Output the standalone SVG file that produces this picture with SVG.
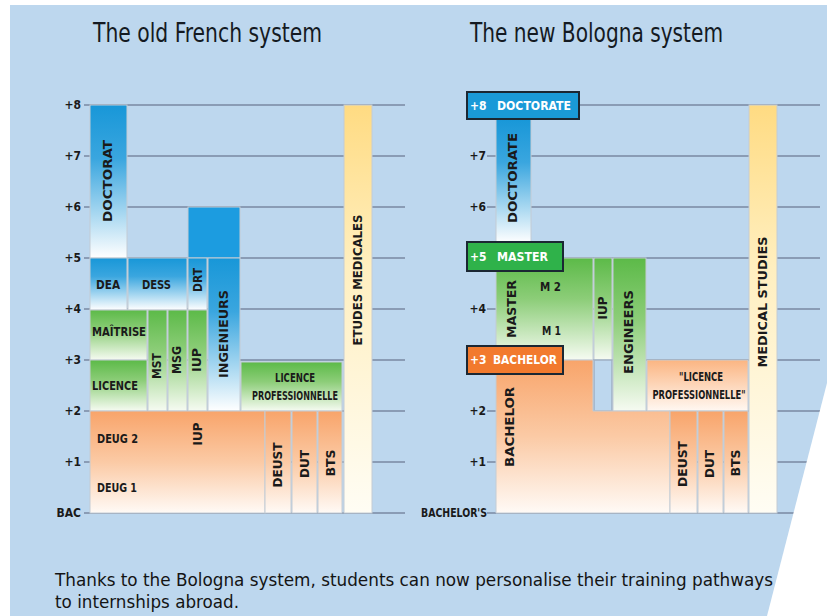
<svg xmlns="http://www.w3.org/2000/svg" width="827" height="616" viewBox="0 0 827 616">
<style>
.t{font-family:"Liberation Sans Narrow","DejaVu Sans Condensed","Liberation Sans",sans-serif;fill:#1a1a1a;font-weight:bold;font-size:12px}
.ttl{font-family:"Liberation Sans Narrow","DejaVu Sans Condensed","Liberation Sans",sans-serif;fill:#141a22;font-size:26px}
.body{font-family:"Liberation Sans Narrow","DejaVu Sans Condensed","Liberation Sans",sans-serif;fill:#141414;font-size:18px}
.ax{font-family:"Liberation Sans Narrow","DejaVu Sans Condensed","Liberation Sans",sans-serif;fill:#1a1a1a;font-weight:bold;font-size:12px;text-anchor:end;dominant-baseline:central}
.w{fill:#ffffff;font-family:"Liberation Sans Narrow","DejaVu Sans Condensed","Liberation Sans",sans-serif;font-weight:bold;font-size:12px;dominant-baseline:central}
.r{text-anchor:middle;dominant-baseline:central}
.grid line{stroke:#8a9cb5;stroke-width:2}
.bx{stroke:#c4ccd4;stroke-width:1}
.badge{stroke:#1b2733;stroke-width:2}
</style>
<defs>
<linearGradient id="gB" x1="0" y1="0" x2="0" y2="1"><stop offset="0" stop-color="#1897d8"/><stop offset="0.35" stop-color="#3aa6df"/><stop offset="1" stop-color="#ffffff"/></linearGradient>
<linearGradient id="gG" x1="0" y1="0" x2="0" y2="1"><stop offset="0" stop-color="#5cba48"/><stop offset="0.4" stop-color="#8ccd78"/><stop offset="1" stop-color="#f6fbf2"/></linearGradient>
<linearGradient id="gO" x1="0" y1="0" x2="0" y2="1"><stop offset="0" stop-color="#f8a46a"/><stop offset="0.5" stop-color="#fbcaa5"/><stop offset="1" stop-color="#fffaf6"/></linearGradient>
<linearGradient id="gO2" x1="0" y1="0" x2="0" y2="1"><stop offset="0" stop-color="#fbb582"/><stop offset="1" stop-color="#fff8f2"/></linearGradient>
<linearGradient id="gY" x1="0" y1="0" x2="0" y2="1"><stop offset="0" stop-color="#ffdb82"/><stop offset="0.4" stop-color="#ffefc0"/><stop offset="1" stop-color="#fffdf4"/></linearGradient>
</defs>

<rect x="10" y="5" width="817" height="611" fill="#bdd7ee"/>

<text class="ttl" x="93" y="42" textLength="229" lengthAdjust="spacingAndGlyphs">The old French system</text>
<text class="ttl" x="470" y="42" textLength="253" lengthAdjust="spacingAndGlyphs">The new Bologna system</text>

<g id="connectors" class="grid">
<line x1="84" y1="105" x2="405" y2="105"/><line x1="84" y1="156" x2="405" y2="156"/><line x1="84" y1="207" x2="405" y2="207"/><line x1="84" y1="258" x2="405" y2="258"/><line x1="84" y1="309" x2="405" y2="309"/><line x1="84" y1="360" x2="405" y2="360"/><line x1="84" y1="411" x2="405" y2="411"/><line x1="84" y1="462" x2="405" y2="462"/><line x1="84" y1="513" x2="405" y2="513"/>
<line x1="487" y1="105" x2="820" y2="105"/><line x1="487" y1="156" x2="820" y2="156"/><line x1="487" y1="207" x2="820" y2="207"/><line x1="487" y1="258" x2="820" y2="258"/><line x1="487" y1="309" x2="820" y2="309"/><line x1="487" y1="360" x2="820" y2="360"/><line x1="487" y1="411" x2="820" y2="411"/><line x1="487" y1="462" x2="820" y2="462"/><line x1="487" y1="513" x2="820" y2="513"/>
</g>

<g id="axis-left">
<text class="ax" x="81" y="105">+8</text><text class="ax" x="81" y="156">+7</text><text class="ax" x="81" y="207">+6</text><text class="ax" x="81" y="258">+5</text><text class="ax" x="81" y="309">+4</text><text class="ax" x="81" y="360">+3</text><text class="ax" x="81" y="411">+2</text><text class="ax" x="81" y="462">+1</text><text class="ax" x="81" y="513" font-size="11">BAC</text>
</g>
<g id="axis-right">
<text class="ax" x="486" y="156">+7</text><text class="ax" x="486" y="207">+6</text><text class="ax" x="486" y="309">+4</text><text class="ax" x="486" y="411">+2</text><text class="ax" x="486" y="462">+1</text><text class="ax" x="487" y="513" font-size="11" textLength="66" lengthAdjust="spacingAndGlyphs">BACHELOR'S</text>
</g>

<!-- Left chart -->
<g id="doctorat"><rect class="bx" x="90" y="105" width="37" height="153" fill="url(#gB)"/><text class="t r" transform="rotate(-90 108 181)" x="108" y="181" textLength="82" lengthAdjust="spacingAndGlyphs">DOCTORAT</text></g>
<g id="dea"><rect class="bx" x="90" y="258" width="37" height="52" fill="url(#gB)"/><text class="t" x="96" y="289" textLength="24" lengthAdjust="spacingAndGlyphs">DEA</text></g>
<g id="dess"><rect class="bx" x="128" y="258" width="59" height="52" fill="url(#gB)"/><text class="t" x="142" y="289" textLength="29" lengthAdjust="spacingAndGlyphs">DESS</text></g>
<g id="top-box"><rect class="bx" x="188" y="207" width="52" height="51" fill="#1c9ce0"/></g>
<g id="drt"><rect class="bx" x="188" y="258" width="19" height="52" fill="url(#gB)"/><text class="t r" transform="rotate(-90 198 280)" x="198" y="280" textLength="24" lengthAdjust="spacingAndGlyphs">DRT</text></g>
<g id="ingenieurs"><rect class="bx" x="208" y="258" width="32" height="153" fill="url(#gB)"/><text class="t r" transform="rotate(-90 224 334)" x="224" y="334" textLength="88" lengthAdjust="spacingAndGlyphs">INGENIEURS</text></g>
<g id="maitrise"><rect class="bx" x="90" y="310" width="57" height="50" fill="url(#gG)"/><text class="t" x="92" y="336" textLength="54" lengthAdjust="spacingAndGlyphs">MAÎTRISE</text></g>
<g id="licence"><rect class="bx" x="90" y="360" width="57" height="51" fill="url(#gG)"/><text class="t" x="92" y="390" textLength="46" lengthAdjust="spacingAndGlyphs">LICENCE</text></g>
<g id="mst"><rect class="bx" x="148" y="310" width="19" height="101" fill="url(#gG)"/><text class="t r" transform="rotate(-90 157 366)" x="157" y="366" textLength="26" lengthAdjust="spacingAndGlyphs">MST</text></g>
<g id="msg"><rect class="bx" x="168" y="310" width="19" height="101" fill="url(#gG)"/><text class="t r" transform="rotate(-90 177 360)" x="177" y="360" textLength="28" lengthAdjust="spacingAndGlyphs">MSG</text></g>
<g id="iup-old"><rect class="bx" x="188" y="310" width="19" height="101" fill="url(#gG)"/><text class="t r" transform="rotate(-90 197 360)" x="197" y="360" textLength="24" lengthAdjust="spacingAndGlyphs">IUP</text></g>
<g id="licence-pro"><rect class="bx" x="241" y="362" width="101" height="49" fill="url(#gG)"/><text class="t" x="295" y="382" text-anchor="middle" font-size="11" textLength="40" lengthAdjust="spacingAndGlyphs">LICENCE</text><text class="t" x="295" y="400" text-anchor="middle" font-size="11" textLength="86" lengthAdjust="spacingAndGlyphs">PROFESSIONNELLE</text></g>
<g id="deug"><rect class="bx" x="90" y="411" width="175" height="102" fill="url(#gO)"/><text class="t" x="97" y="443" textLength="41" lengthAdjust="spacingAndGlyphs">DEUG 2</text><text class="t" x="97" y="492" textLength="40" lengthAdjust="spacingAndGlyphs">DEUG 1</text><text class="t r" transform="rotate(-90 198 434)" x="198" y="434" textLength="23" lengthAdjust="spacingAndGlyphs">IUP</text></g>
<g id="deust-old"><rect class="bx" x="265" y="411" width="26" height="102" fill="url(#gO)"/><text class="t r" transform="rotate(-90 278 465)" x="278" y="465" textLength="45" lengthAdjust="spacingAndGlyphs">DEUST</text></g>
<g id="dut-old"><rect class="bx" x="292" y="411" width="25" height="102" fill="url(#gO)"/><text class="t r" transform="rotate(-90 305 464)" x="305" y="464" textLength="28" lengthAdjust="spacingAndGlyphs">DUT</text></g>
<g id="bts-old"><rect class="bx" x="318" y="411" width="24" height="102" fill="url(#gO)"/><text class="t r" transform="rotate(-90 331 463)" x="331" y="463" textLength="27" lengthAdjust="spacingAndGlyphs">BTS</text></g>
<g id="etudes-medicales"><rect class="bx" x="344" y="105" width="28" height="408" fill="url(#gY)"/><text class="t r" transform="rotate(-90 358 280)" x="358" y="280" textLength="131" lengthAdjust="spacingAndGlyphs">ETUDES MEDICALES</text></g>

<!-- Right chart -->
<g id="doctorate-col"><rect class="bx" x="496" y="119" width="35" height="124" fill="url(#gB)"/><text class="t r" transform="rotate(-90 513 178)" x="513" y="178" font-weight="normal" textLength="90" lengthAdjust="spacingAndGlyphs">DOCTORATE</text></g>
<g id="master-area"><rect class="bx" x="496" y="258" width="97" height="102" fill="url(#gG)"/><text class="t r" transform="rotate(-90 512 309)" x="512" y="309" textLength="58" lengthAdjust="spacingAndGlyphs">MASTER</text><text class="t" x="540" y="291" textLength="21" lengthAdjust="spacingAndGlyphs">M 2</text><text class="t" x="542" y="335" textLength="19" lengthAdjust="spacingAndGlyphs">M 1</text></g>
<g id="iup-new"><rect class="bx" x="594" y="258" width="18" height="102" fill="url(#gG)"/><text class="t r" transform="rotate(-90 603 308)" x="603" y="308" textLength="23" lengthAdjust="spacingAndGlyphs">IUP</text></g>
<g id="iup-gap"><rect x="594" y="360" width="18" height="51" fill="#bdd7ee" stroke="#9fb0c4" stroke-width="1.5"/></g>
<g id="engineers"><rect class="bx" x="613" y="258" width="33" height="153" fill="url(#gG)"/><text class="t r" transform="rotate(-90 629 332)" x="629" y="332" textLength="84" lengthAdjust="spacingAndGlyphs">ENGINEERS</text></g>
<g id="licence-pro-new"><rect class="bx" x="647" y="360" width="101" height="51" fill="url(#gO2)"/><text class="t" x="701" y="381" text-anchor="middle" font-size="11" textLength="44" lengthAdjust="spacingAndGlyphs">"LICENCE</text><text class="t" x="699" y="399" text-anchor="middle" font-size="11" textLength="93" lengthAdjust="spacingAndGlyphs">PROFESSIONNELLE"</text></g>
<g id="bachelor-area"><polygon class="bx" points="496,360 593,360 593,411 670,411 670,513 496,513" fill="url(#gO)"/><text class="t r" transform="rotate(-90 510 427)" x="510" y="427" textLength="80" lengthAdjust="spacingAndGlyphs">BACHELOR</text></g>
<g id="deust-new"><rect class="bx" x="670" y="411" width="27" height="102" fill="url(#gO)"/><text class="t r" transform="rotate(-90 683 464)" x="683" y="464" textLength="46" lengthAdjust="spacingAndGlyphs">DEUST</text></g>
<g id="dut-new"><rect class="bx" x="698" y="411" width="25" height="102" fill="url(#gO)"/><text class="t r" transform="rotate(-90 710 464)" x="710" y="464" textLength="28" lengthAdjust="spacingAndGlyphs">DUT</text></g>
<g id="bts-new"><rect class="bx" x="724" y="411" width="24" height="102" fill="url(#gO)"/><text class="t r" transform="rotate(-90 736 463)" x="736" y="463" textLength="27" lengthAdjust="spacingAndGlyphs">BTS</text></g>
<g id="medical-studies"><rect class="bx" x="749" y="105" width="28" height="408" fill="url(#gY)"/><text class="t r" transform="rotate(-90 763 302)" x="763" y="302" textLength="131" lengthAdjust="spacingAndGlyphs">MEDICAL STUDIES</text></g>

<g id="badge-doctorate"><rect class="badge" x="467" y="92" width="112" height="27" fill="#1a9ad8"/><text class="w" x="470" y="106">+8</text><text class="w" x="497" y="106" textLength="74" lengthAdjust="spacingAndGlyphs">DOCTORATE</text></g>
<g id="badge-master"><rect class="badge" x="467" y="242" width="96" height="29" fill="#2fb24a"/><text class="w" x="470" y="257">+5</text><text class="w" x="497" y="257" textLength="51" lengthAdjust="spacingAndGlyphs">MASTER</text></g>
<g id="badge-bachelor"><rect class="badge" x="467" y="346" width="96" height="28" fill="#f27a2e"/><text class="w" x="470" y="360">+3</text><text class="w" x="493" y="360" textLength="64" lengthAdjust="spacingAndGlyphs">BACHELOR</text></g>

<polygon points="827,383 827,616 767,616" fill="#ffffff"/>

<text class="body" x="55" y="586" textLength="718" lengthAdjust="spacingAndGlyphs">Thanks to the Bologna system, students can now personalise their training pathways</text>
<text class="body" x="55" y="608" textLength="184" lengthAdjust="spacingAndGlyphs">to internships abroad.</text>
</svg>
